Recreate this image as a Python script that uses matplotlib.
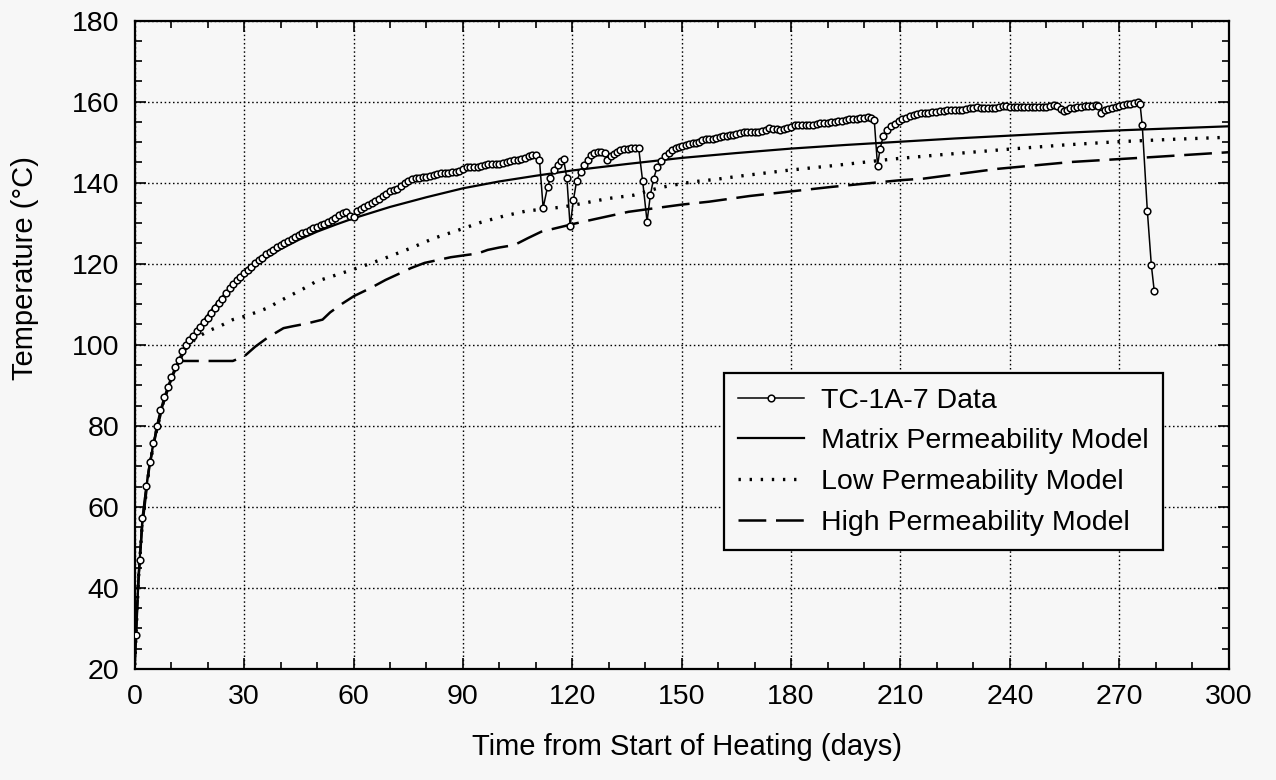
import numpy as np
import matplotlib
matplotlib.use('Agg')
import matplotlib.pyplot as plt
from matplotlib.ticker import MultipleLocator

plt.rcParams['font.family'] = ['Liberation Sans', 'DejaVu Sans']
plt.rcParams['lines.scale_dashes'] = False

data_day = [0.4, 1.4, 2.0, 3.1, 4.1, 5.1, 6.0, 7.0, 8.0, 9.0,
            10, 11, 12, 13, 14, 15, 16, 17, 18, 19,
            20, 21, 22, 23, 24, 25, 26, 27, 28, 29,
            30, 31, 32, 33, 34, 35, 36, 37, 38, 39,
            40, 41, 42, 43, 44, 45, 46, 47, 48, 49,
            50, 51, 52, 53, 54, 55, 56, 57, 58, 59,
            60, 61, 62, 63, 64, 65, 66, 67, 68, 69,
            70, 71, 72, 73, 74, 75, 76, 77, 78, 79,
            80, 81, 82, 83, 84, 85, 86, 87, 88, 89,
            90, 91, 92, 93, 94, 95, 96, 97, 98, 99,
            100, 101, 102, 103, 104, 105, 106, 107, 108, 109,
            110, 111, 112.0, 113.2, 114.0, 115.0, 116.0, 117.0, 117.6, 118.5,
            119.4, 120.3, 121.2, 122.3, 123.2, 124.2, 125.0, 126.0, 127.0, 128.0,
            129.0, 129.6, 130.5, 131.4, 132.3, 133.2, 134.2, 135.2, 136.2, 137.2,
            138.2, 139.3, 140.5, 141.4, 142.3, 143.3, 144.4, 145.5, 146.5, 147.4,
            148.3, 149.2, 150.2, 151.1, 152.0, 153.0, 153.9, 154.8, 155.7, 156.7,
            157.6, 158.5, 159.5, 160.4, 161.3, 162.3, 163.2, 164.1, 165.0, 166,
            167, 168, 169, 170, 171, 172, 173, 174, 175, 176,
            177, 178, 179, 180, 181, 182, 183, 184, 185, 186,
            187, 188, 189, 190, 191, 192, 193, 194, 195, 196,
            197, 198, 199, 200, 201, 202, 202.8, 203.7, 204.4, 205.3,
            206.3, 207.3, 208.4, 209.5, 210.5, 211.5, 212.6, 213.6, 214.6, 215.6,
            216.6, 217.6, 218.7, 219.8, 220.8, 221.8, 222.8, 223.9, 225.0, 226,
            227, 228, 229, 230, 231, 232, 233, 234, 235, 236,
            237, 238, 239, 240, 241, 242, 243, 244, 245, 246,
            247, 248, 249, 250, 251, 252, 253, 254.0, 254.8, 255.7,
            256.6, 257.5, 258.5, 259.5, 260.5, 261.5, 262.5, 263.5, 264.3, 265.1,
            266, 267, 268, 269, 270, 271, 272, 273, 274, 275,
            275.7, 276.3, 277.7, 278.8, 279.6]
data_temp = [28.5, 46.9, 57.3, 65.1, 71.0, 75.7, 80.0, 83.9, 87.0, 89.6,
             92.1, 94.4, 96.2, 98.4, 100.0, 101.2, 102.2, 103.4, 104.5, 105.5,
             106.6, 107.8, 109.0, 110.2, 111.4, 112.7, 114.0, 115.0, 115.9, 116.8,
             117.6, 118.5, 119.3, 120.1, 120.9, 121.5, 122.3, 123.0, 123.5, 124.0,
             124.5, 125.0, 125.5, 126.0, 126.6, 127.1, 127.5, 127.9, 128.4, 128.8,
             129.1, 129.5, 129.9, 130.3, 130.7, 131.3, 132.0, 132.5, 132.8, 131.8,
             131.6, 133.1, 133.5, 134.0, 134.6, 135.0, 135.5, 136.0, 136.6, 137.3,
             137.9, 138.2, 138.5, 139.2, 139.8, 140.3, 141.0, 141.2, 141.2, 141.3,
             141.3, 141.6, 142.0, 142.2, 142.4, 142.5, 142.5, 142.6, 142.7, 142.8,
             143.4, 143.9, 143.9, 143.9, 143.9, 144.1, 144.4, 144.7, 144.7, 144.7,
             144.7, 144.8, 145.0, 145.3, 145.5, 145.7, 145.9, 146.2, 146.5, 146.8,
             146.9, 145.5, 133.8, 138.9, 141.2, 143.2, 144.3, 145.3, 145.8, 141.1,
             129.2, 135.7, 140.5, 142.7, 144.4, 145.6, 146.7, 147.2, 147.5, 147.5,
             147.3, 145.6, 146.5, 147.1, 147.6, 148.1, 148.3, 148.4, 148.5, 148.5,
             148.5, 140.3, 130.4, 136.9, 141.0, 143.9, 145.3, 146.5, 147.3, 148.0,
             148.5, 148.8, 149.1, 149.4, 149.6, 149.8, 149.9, 150.1, 150.6, 150.7,
             150.7, 150.8, 151.0, 151.3, 151.5, 151.6, 151.7, 151.8, 152.0, 152.2,
             152.4, 152.4, 152.4, 152.4, 152.5, 152.8, 153.1, 153.4, 153.3, 153.2,
             153.1, 153.2, 153.5, 153.8, 154.1, 154.1, 154.1, 154.1, 154.1, 154.3,
             154.5, 154.7, 154.8, 154.8, 154.9, 154.9, 155.1, 155.3, 155.5, 155.6,
             155.7, 155.8, 155.9, 156.0, 156.1, 156.0, 155.5, 144.2, 148.3, 151.6,
             153.0, 153.9, 154.5, 155.2, 155.6, 156.0, 156.4, 156.7, 156.9, 157.1,
             157.2, 157.3, 157.4, 157.5, 157.6, 157.7, 157.8, 157.9, 157.9, 158.0,
             158.0, 158.2, 158.4, 158.5, 158.6, 158.5, 158.4, 158.3, 158.3, 158.5,
             158.7, 158.8, 158.8, 158.7, 158.7, 158.6, 158.6, 158.6, 158.6, 158.6,
             158.6, 158.6, 158.6, 158.7, 158.9, 159.1, 158.8, 158.1, 157.6, 158.0,
             158.3, 158.5, 158.6, 158.7, 158.9, 159.0, 159.0, 159.1, 158.8, 157.2,
             157.8, 158.2, 158.4, 158.7, 158.9, 159.1, 159.3, 159.5, 159.7, 159.8,
             159.4, 154.2, 133.0, 119.6, 113.2]

# model curves
matrix_day = [0, 0.5, 1, 1.5, 2, 3, 4, 5, 6, 7, 8, 9, 10, 12, 14, 16, 18, 20, 23,
              26, 30, 35, 40, 45, 50, 55, 60, 70, 80, 90, 100, 110, 120, 135,
              150, 165, 180, 195, 210, 225, 240, 255, 270, 285, 300]
matrix_temp = [21, 33, 42, 49, 55, 63.5, 70, 75, 79, 83, 86, 89, 91.5, 95.5, 99,
               102, 104.8, 107.3, 110.8, 113.8, 117.0, 120.8, 123.6, 125.9, 127.9,
               129.6, 131.2, 134.0, 136.4, 138.6, 140.3, 141.7, 143.0, 144.6,
               146.1, 147.3, 148.4, 149.3, 150.1, 150.9, 151.6, 152.3, 152.9,
               153.4, 153.9]

low_day = [0, 1, 2, 4, 6, 8, 10, 12, 14, 17, 20.4, 23.6, 26.9, 30.1, 33.3, 36.5,
           39.8, 43.0, 46.2, 49.7, 54.5, 59.6, 64.5, 69.3, 75.6, 82.1, 88.5, 94.9,
           101.4, 107.4, 117.5, 123.5, 129.9, 136.8, 143.3, 146.5, 153.0, 159.3,
           165.8, 178.7, 191.6, 201.7, 207.6, 220.0, 240.3, 255.0, 269.7, 285.0,
           300.0]
low_temp = [21, 42, 55, 70, 79, 86, 91.5, 95.5, 99, 101.8, 103.5, 104.7, 106.2,
            107.0, 108.0, 109.1, 110.8, 112.3, 113.8, 115.6, 117.0, 118.5, 120.0,
            121.6, 123.8, 126.3, 128.2, 130.2, 131.8, 133.0, 134.0, 135.0, 136.1,
            136.9, 138.6, 139.2, 140.2, 140.8, 141.6, 143.0, 144.2, 145.2, 145.8,
            146.8, 148.3, 149.3, 150.1, 150.7, 151.2]

high_day = [0, 1, 2, 4, 6, 8, 10, 12, 13.1, 26.9, 30.1, 33.0, 36.5, 40.8, 43.5,
            47.0, 51.5, 53.6, 57.0, 60.1, 64.7, 68.8, 72.9, 75.7, 79.5, 83.1,
            86.7, 91.4, 94.0, 96.8, 100.0, 104.1, 107.8, 111.5, 115.2, 120.7,
            126.2, 135.4, 141.9, 150.2, 157.5, 168.6, 179.6, 190.6, 200.7, 210.0,
            216.4, 236.6, 256.9, 279.0, 300.0]
high_temp = [21, 42, 55, 70, 79, 86, 91.5, 95.5, 96.0, 96.0, 97.2, 99.5, 101.8,
             104.1, 104.6, 105.2, 106.2, 108.0, 110.2, 112.0, 114.0, 116.0, 117.7,
             118.9, 120.2, 120.9, 121.6, 122.2, 122.5, 123.4, 124.0, 124.6, 126.3,
             127.9, 128.7, 129.9, 131.0, 132.8, 133.6, 134.6, 135.3, 136.7, 137.8,
             138.9, 139.8, 140.6, 141.0, 143.4, 145.1, 146.3, 147.5]

assert len(data_day) == len(data_temp)

bg = '#f7f7f7'
myfont = 21

fig = plt.figure(figsize=(12.76, 7.8), dpi=100, facecolor=bg)
ax = fig.add_axes([0.1056, 0.1423, 0.8573, 0.8314], facecolor=bg)

ax.plot(low_day, low_temp, color='k', lw=2.4, dashes=(1.7, 6.3),
        label='Low Permeability Model')
ax.plot(high_day, high_temp, color='k', lw=1.8, dashes=(20, 7),
        label='High Permeability Model')
ax.plot(matrix_day, matrix_temp, color='k', lw=1.6,
        label='Matrix Permeability Model')
ax.plot(data_day, data_temp, color='k', lw=1.1, marker='o', ms=4.8, mew=1.1,
        mfc='white', mec='k', label='TC-1A-7 Data', zorder=5)

ax.set_xlim(0, 300)
ax.set_ylim(20, 180)
ax.xaxis.set_major_locator(MultipleLocator(30))
ax.xaxis.set_minor_locator(MultipleLocator(10))
ax.yaxis.set_major_locator(MultipleLocator(20))
ax.yaxis.set_minor_locator(MultipleLocator(5))
ax.tick_params(which='both', direction='in', top=True, right=True,
               labelsize=20.5, pad=11, width=1.2)
ax.tick_params(which='major', length=8)
ax.tick_params(which='minor', length=5)
for sp in ax.spines.values():
    sp.set_linewidth(1.6)

ax.grid(True, which='major', color='k', lw=1.0, linestyle=(0, (1.1, 1.9)))

ax.set_xlabel('Time from Start of Heating (days)', fontsize=myfont, va='center')
ax.set_ylabel('Temperature (°C)', fontsize=myfont, va='center')
ax.xaxis.set_label_coords(0.505, -0.12)
ax.yaxis.set_label_coords(-0.1003, 0.618)

h, l = ax.get_legend_handles_labels()
order = [3, 2, 0, 1]
leg = ax.legend([h[i] for i in order], [l[i] for i in order], loc='upper left',
                bbox_to_anchor=(0.5387, 0.456), fontsize=20.5, numpoints=1,
                handlelength=2.3, handletextpad=0.6, borderpad=0.5,
                labelspacing=0.52, fancybox=False, framealpha=1,
                edgecolor='k', facecolor=bg, borderaxespad=0)
leg.get_frame().set_linewidth(1.6)

fig.savefig('out.png', dpi=100, facecolor=bg)
